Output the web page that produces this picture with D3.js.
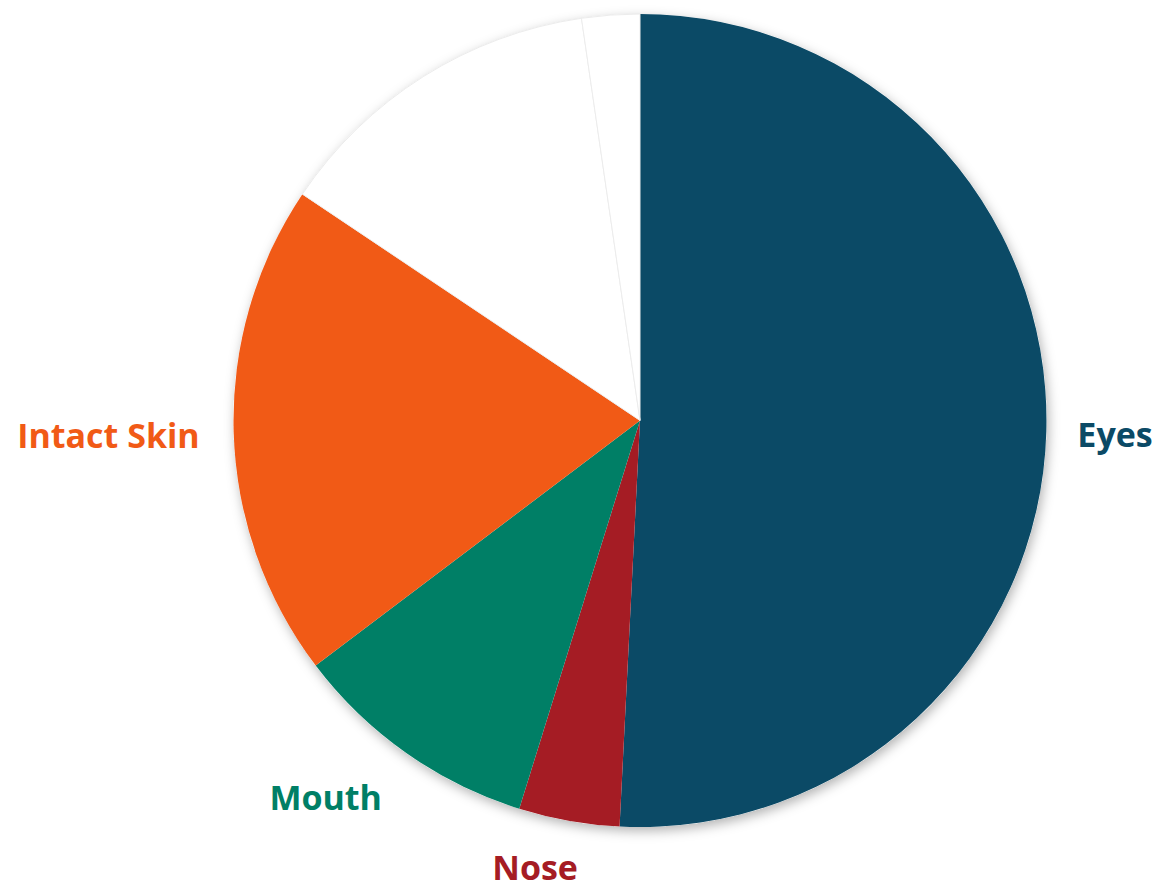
<!DOCTYPE html>
<html>
<head>
<meta charset="utf-8">
<script src="https://cdn.jsdelivr.net/npm/d3@7"></script>
<style>
  html, body { margin: 0; padding: 0; background: #ffffff; }
  svg { display: block; }
</style>
</head>
<body>
<div id="chart"></div>
<script>
// chart data (percent of total)
var categories = ['Eyes', 'Nose', 'Mouth', 'Intact Skin', 'Other A', 'Other B'];
var values     = [50.8, 4.0, 9.9, 19.7, 13.3, 2.3];
var showLabel  = [true, true, true, true, false, false];
var colors     = ['#0b4a66', '#a51c24', '#007f66', '#f15a16', '#ffffff', '#ffffff'];

// label nudges (px) from the outside-end position
var labelNudge = [[1, 2], [-21, 5], [-31, 10], [-4, 2], [0, 0], [0, 0]];

var w = 1162;
var h = 891;
var cx = 640, cy = 420.5, r = 406.5;

var svg = d3.select('#chart')
    .append('svg')
    .attr('width', w)
    .attr('height', h);

// soft drop shadow under the pie
var defs = svg.append('defs');
var shadow = defs.append('filter')
    .attr('id', 'shadow')
    .attr('x', '-10%').attr('y', '-10%')
    .attr('width', '120%').attr('height', '120%');
shadow.append('feDropShadow')
    .attr('dx', 2)
    .attr('dy', 4)
    .attr('stdDeviation', 6)
    .attr('flood-color', '#000')
    .attr('flood-opacity', 0.3);

var data = categories.map(function (c, i) {
    return { name: c, value: values[i], color: colors[i], label: showLabel[i], nudge: labelNudge[i] };
});

var pie = d3.pie()
    .sort(null)
    .value(function (d) { return d.value; });

var arc = d3.arc()
    .innerRadius(0)
    .outerRadius(r);

var g = svg.append('g')
    .attr('transform', 'translate(' + cx + ',' + cy + ')');

// shadow disc (drawn once so slice edges stay crisp)
g.append('circle')
    .attr('r', r)
    .attr('fill', '#ffffff')
    .attr('filter', 'url(#shadow)');

var arcs = pie(data);

g.selectAll('path.slice')
    .data(arcs)
    .enter()
    .append('path')
    .attr('class', 'slice')
    .attr('d', arc)
    .attr('fill', function (d) { return d.data.color; })
    .attr('stroke', function (d) { return d.data.color === '#ffffff' ? '#ececec' : 'none'; })
    .attr('stroke-width', 1);

// labels placed just outside the rim, then nudged
var labels = g.selectAll('text.label')
    .data(arcs.filter(function (d) { return d.data.label; }))
    .enter()
    .append('text')
    .attr('class', 'label')
    .attr('text-anchor', 'middle')
    .attr('dominant-baseline', 'central')
    .style('font-family', '"Open Sans", Lato, sans-serif')
    .style('font-weight', 'bold')
    .style('font-size', '34px')
    .attr('fill', function (d) { return d.data.color; })
    .text(function (d) { return d.data.name; });

labels.each(function (d) {
    var bb = this.getBBox();
    var a = (d.startAngle + d.endAngle) / 2;
    var pr = r + 30;
    var px = Math.sin(a) * pr + Math.sin(a) * bb.width / 2 + d.data.nudge[0];
    var py = -Math.cos(a) * pr - Math.cos(a) * 12 + d.data.nudge[1];
    d3.select(this).attr('x', px).attr('y', py);
});
</script>
</body>
</html>
